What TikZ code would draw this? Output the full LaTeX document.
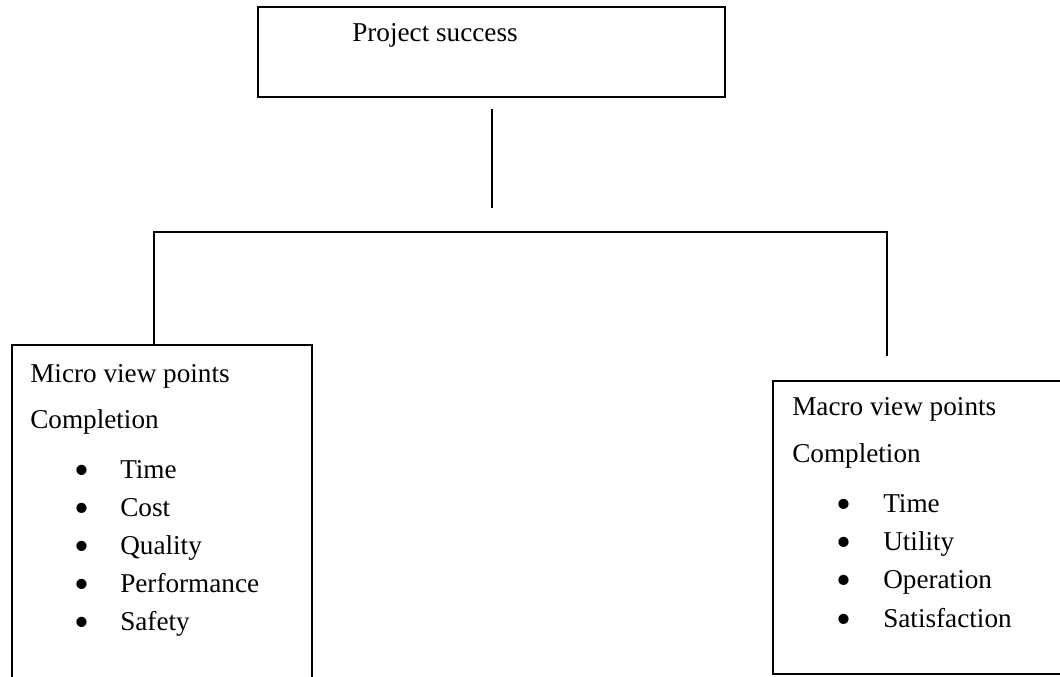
\documentclass[tikz,border=0pt]{standalone}
\usepackage{fontspec}
\setmainfont{Liberation Serif}
\begin{document}
\begin{tikzpicture}[x=0.75pt,y=-0.75pt,
  ln/.style={line width=0.9pt,black},
  boxnode/.style={draw,line width=0.9pt,anchor=north west,inner sep=0pt,outer sep=0pt},
  txt/.style={anchor=base west,inner sep=0pt,font=\fontsize{20.4}{24}\selectfont},
  bul/.style={anchor=base,inner sep=0pt,text height=14pt,text depth=0pt,font=\fontsize{32}{32}\selectfont}]
\useasboundingbox (0,0) rectangle (1060,677);
% top box
\node[boxnode,minimum width=350.25pt,minimum height=67.5pt] (top) at (258,7) {};
\node[txt] (ttl) at (352,42) {Project success};
% left box (open at the page bottom)
\node[boxnode,minimum width=225pt,minimum height=270pt] (lbox) at (12,345) {};
\node[txt] (l1) at (30,382) {Micro view points};
\node[txt] (l2) at (30,428) {Completion};
\foreach \y/\t/\n in {478/Time/a,516/Cost/b,554/Quality/c,592/Performance/d,630/Safety/e}{
  \node[bul] (lb\n) at (81.5,\y+6) {•};
  \node[txt] (li\n) at (120,\y) {\t};
}
% right box (open past the right edge)
\node[boxnode,minimum width=225pt,minimum height=219.75pt] (rbox) at (773,381) {};
\node[txt] (r1) at (792,415) {Macro view points};
\node[txt] (r2) at (792,462) {Completion};
\foreach \y/\t/\n in {512/Time/a,550/Utility/b,588/Operation/c,627/Satisfaction/d}{
  \node[bul] (rb\n) at (843.5,\y+6) {•};
  \node[txt] (ri\n) at (883,\y) {\t};
}
% connectors
\coordinate (c1) at (492,109);
\coordinate (c2) at (492,208);
\coordinate (hl) at (154,232);
\coordinate (hr) at (887,232);
\coordinate (re) at (887,356);
\draw[ln] (c1) -- (c2);
\draw[ln] (hl |- lbox.north) -- (hl) -- (hr) -- (re);
\end{tikzpicture}
\end{document}
